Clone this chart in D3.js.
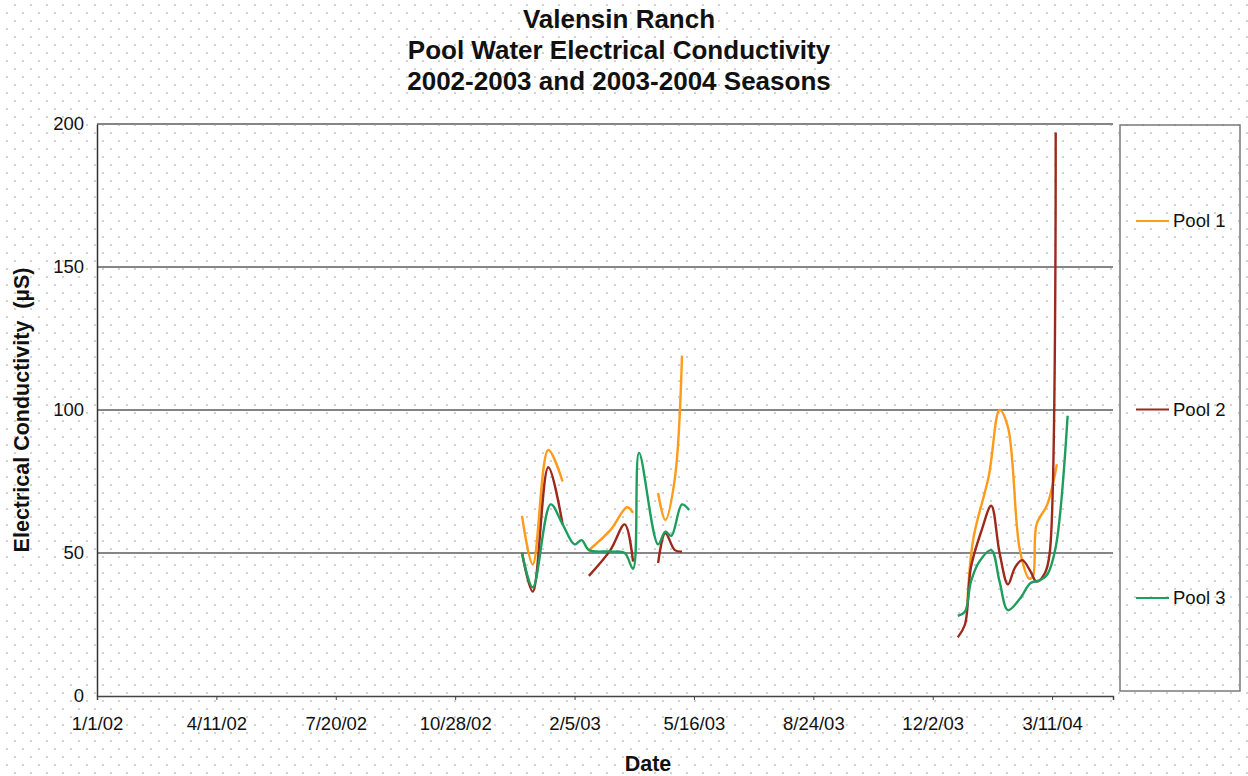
<!DOCTYPE html>
<html>
<head>
<meta charset="utf-8">
<script src="https://cdn.jsdelivr.net/npm/d3@7"></script>
<style>
  body { margin: 0; background: #fff; }
  svg { display: block; font-family: "Liberation Sans", Arial, sans-serif; }
</style>
</head>
<body>
<svg id="chart" width="1248" height="776"></svg>
<script>
// dates, null value = gap in the series
const pool1Dates = ["2002-12-23", "2003-01-01", "2003-01-14", "2003-01-26", "2003-02-01",
  "2003-02-17", "2003-03-07", "2003-03-21", "2003-03-26", "2003-04-05",
  "2003-04-16", "2003-04-22", "2003-04-30", "2003-05-06", "2003-09-01",
  "2003-12-31", "2004-01-05", "2004-01-18", "2004-01-27", "2004-02-03", "2004-02-13",
  "2004-02-21", "2004-02-24", "2004-02-27", "2004-03-07", "2004-03-15"];
const pool1Values = [63, 46, 86, 75, null,
  51, 58, 66, 64, null,
  71, 61.5, 76, 119, null,
  33, 55, 77, 100, 94, 51,
  41, 42, 60, 67, 81];

const pool2Dates = ["2002-12-23", "2003-01-01", "2003-01-14", "2003-01-26", "2003-02-01",
  "2003-02-17", "2003-03-07", "2003-03-19", "2003-03-26", "2003-04-05",
  "2003-04-16", "2003-04-22", "2003-04-30", "2003-05-06", "2003-09-01",
  "2003-12-23", "2003-12-29", "2004-01-03", "2004-01-12", "2004-01-20", "2004-01-27",
  "2004-02-03", "2004-02-09", "2004-02-15", "2004-02-22", "2004-02-27", "2004-03-05",
  "2004-03-09", "2004-03-14"];
const pool2Values = [50, 36.5, 80, 60, null,
  42, 51, 60, 47, null,
  46.5, 57, 51, 50.5, null,
  20.5, 25, 45, 58, 66.5, 50,
  39, 45, 47.5, 43.5, 40, 43,
  50, 197];

const pool3Dates = ["2002-12-23", "2003-01-01", "2003-01-16", "2003-01-26", "2003-02-05",
  "2003-02-11", "2003-02-17", "2003-03-07", "2003-03-19", "2003-03-26", "2003-03-31",
  "2003-04-16", "2003-04-22", "2003-04-27", "2003-05-06", "2003-05-12", "2003-09-01",
  "2003-12-23", "2003-12-29", "2004-01-03", "2004-01-10", "2004-01-20", "2004-01-27",
  "2004-02-03", "2004-02-13", "2004-02-22", "2004-03-01", "2004-03-07", "2004-03-14",
  "2004-03-24"];
const pool3Values = [50, 38, 67, 60, 53,
  54.5, 51, 50.5, 50, 44.5, 85,
  53, 57.5, 56, 67, 65, null,
  28, 29.5, 40, 47, 51, 40,
  30, 34, 39.5, 40.5, 42.5, 52,
  98];

const seriesNames = ["Pool 1", "Pool 2", "Pool 3"];
const seriesColors = ["#ff9a1a", "#9b2a1c", "#1e9e5e"];
const xTickDates = ["2002-01-01", "2002-04-11", "2002-07-20", "2002-10-28", "2003-02-05",
  "2003-05-16", "2003-08-24", "2003-12-02", "2004-03-11"];
const yTicks = [0, 50, 100, 150, 200];
const titleLines = ["Valensin Ranch", "Pool Water Electrical Conductivity", "2002-2003 and 2003-2004 Seasons"];

const parse = d3.utcParse("%Y-%m-%d");
const fmt = d3.utcFormat("%-m/%-d/%y");

const margin = { top: 124, right: 135, bottom: 80, left: 97 },
  W = 1248, H = 776,
  width = 1113 - margin.left,
  height = 696 - margin.top;

const svg = d3.select("#chart");

// dotted background like the original
const defs = svg.append("defs");
const pat = defs.append("pattern")
  .attr("id", "dots")
  .attr("patternUnits", "userSpaceOnUse")
  .attr("width", 16)
  .attr("height", 16);
pat.append("rect").attr("x", 14).attr("y", 4).attr("width", 2).attr("height", 2).attr("fill", "#d2d2d2");
pat.append("rect").attr("x", 6).attr("y", 12).attr("width", 2).attr("height", 2).attr("fill", "#d2d2d2");
svg.append("rect").attr("width", W).attr("height", H).attr("fill", "#fff");
svg.append("rect").attr("width", W).attr("height", H).attr("fill", "url(#dots)");

const g = svg.append("g").attr("transform", `translate(${margin.left},${margin.top})`);

const start = parse("2002-01-01");
const x = d3.scaleUtc()
  .domain([start, d3.utcDay.offset(start, 851)])
  .range([0, width]);
const y = d3.scaleLinear().domain([0, 200]).range([height, 0]);

// gridlines
g.selectAll(".grid")
  .data(yTicks.filter(d => d > 0))
  .enter()
  .append("line")
  .attr("x1", 0)
  .attr("x2", width)
  .attr("y1", d => y(d))
  .attr("y2", d => y(d))
  .attr("stroke", "#858585")
  .attr("stroke-width", 2);

// y axis
const yAxis = g.append("g")
  .call(d3.axisLeft(y).tickValues(yTicks).tickSize(0).tickPadding(13));
yAxis.select(".domain").attr("stroke", "#333").attr("stroke-width", 1.5);
yAxis.selectAll("text")
  .attr("font-size", 18.5)
  .attr("font-family", "Liberation Sans, Arial, sans-serif")
  .attr("fill", "#111");

// x axis
const xAxis = g.append("g")
  .attr("transform", `translate(0,${height})`)
  .call(d3.axisBottom(x).tickValues(xTickDates.map(parse)).tickFormat(fmt).tickSize(4).tickPadding(17));
xAxis.select(".domain").attr("stroke", "#444").attr("stroke-width", 1.5);
xAxis.selectAll(".tick line").attr("stroke", "#444");
xAxis.selectAll("text")
  .attr("font-size", 18.5)
  .attr("font-family", "Liberation Sans, Arial, sans-serif")
  .attr("fill", "#111");

// lines
const allSeries = [
  { dates: pool1Dates, values: pool1Values },
  { dates: pool2Dates, values: pool2Values },
  { dates: pool3Dates, values: pool3Values },
];

const line = d3.line()
  .defined(d => d.v !== null)
  .x(d => x(d.date))
  .y(d => y(d.v))
  .curve(d3.curveCatmullRom.alpha(0.5));

allSeries.forEach(function (s, i) {
  const pts = s.dates.map((d, j) => ({ date: parse(d), v: s.values[j] }));
  g.append("path")
    .datum(pts)
    .attr("fill", "none")
    .attr("stroke", seriesColors[i])
    .attr("stroke-width", 2.4)
    .attr("stroke-linejoin", "round")
    .attr("d", line);
});

// titles
svg.selectAll(".title")
  .data(titleLines)
  .enter()
  .append("text")
  .attr("x", 619)
  .attr("y", (d, i) => 28 + i * 31)
  .attr("text-anchor", "middle")
  .attr("font-size", 26)
  .attr("font-weight", "bold")
  .attr("fill", "#111")
  .text(d => d);

svg.append("text")
  .attr("transform", "translate(29,410) rotate(-90)")
  .attr("text-anchor", "middle")
  .attr("font-size", 21.5)
  .attr("font-weight", "bold")
  .attr("fill", "#111")
  .attr("xml:space", "preserve")
  .text("Electrical Conductivity  (µS)");

svg.append("text")
  .attr("x", 648)
  .attr("y", 771)
  .attr("text-anchor", "middle")
  .attr("font-size", 21.5)
  .attr("font-weight", "bold")
  .attr("fill", "#111")
  .text("Date");

// legend
const legend = svg.append("g");
legend.append("rect")
  .attr("x", 1120)
  .attr("y", 125)
  .attr("width", 120)
  .attr("height", 566)
  .attr("fill", "none")
  .attr("stroke", "#7a7a7a")
  .attr("stroke-width", 1.5);

const legY = d3.scalePoint().domain(seriesNames).range([221, 598]);
seriesNames.forEach(function (name, i) {
  legend.append("line")
    .attr("x1", 1136)
    .attr("x2", 1169)
    .attr("y1", legY(name))
    .attr("y2", legY(name))
    .attr("stroke", seriesColors[i])
    .attr("stroke-width", 2);
  legend.append("text")
    .attr("x", 1173)
    .attr("y", legY(name) + 6)
    .attr("font-size", 18.5)
    .attr("fill", "#111")
    .text(name);
});
</script>
</body>
</html>
